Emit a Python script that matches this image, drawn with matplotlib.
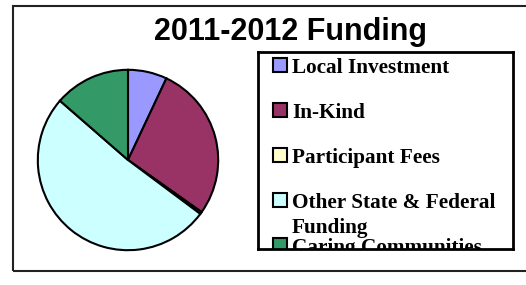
import matplotlib
matplotlib.use('Agg')
import matplotlib.pyplot as plt
from matplotlib.patches import Rectangle

# data (percent of total)
categories = ['Local Investment', 'In-Kind', 'Participant Fees',
              'Other State & Federal\nFunding', 'Caring Communities']
shares = [7.0, 27.8, 0.4, 51.2, 13.6]
colors = ['#9999FF', '#993366', '#FFFFCC', '#CCFFFF', '#339966']
title = '2011-2012 Funding'

W, H = 526, 285
fig = plt.figure(figsize=(W / 100, H / 100), dpi=100)

# outer chart-area border (open on the right, like the original crop)
fig.add_artist(Rectangle((13 / W, 1 - 271 / H), 2.0, 265 / H,
                         transform=fig.transFigure, fill=False,
                         edgecolor='#222222', linewidth=1.5))

fig.text(291 / W, 1 - 40 / H, title, ha='center', va='baseline',
         fontsize=22, fontweight='bold', family='Liberation Sans')

# pie
cx, cy, r = 128, 160, 92
ax = fig.add_axes([(cx - r) / W, 1 - (cy + r) / H, 2 * r / W, 2 * r / H])
ax.pie(shares, colors=colors, startangle=90, counterclock=False,
       wedgeprops=dict(edgecolor='black', linewidth=1.5))
ax.set_xlim(-1.02, 1.02)
ax.set_ylim(-1.02, 1.02)

# legend box (clipped like the original)
lx0, ly0, lx1, ly1 = 258, 52, 513, 249
lw, lh = lx1 - lx0, ly1 - ly0
lax = fig.add_axes([lx0 / W, 1 - ly1 / H, lw / W, lh / H])
lax.set_xlim(0, lw)
lax.set_ylim(lh, 0)
lax.set_xticks([])
lax.set_yticks([])
for s in lax.spines.values():
    s.set_linewidth(2)
    s.set_color('black')

step = 45
for i, (lab, col) in enumerate(zip(categories, colors)):
    base = 73 - ly0 + step * i
    lax.add_patch(Rectangle((273 - lx0, base - 15), 14, 14, facecolor=col,
                            edgecolor='black', linewidth=1.5, clip_on=True))
    for k, part in enumerate(lab.split('\n')):
        lax.text(292 - lx0, base + 25 * k, part, ha='left', va='baseline',
                 fontsize=15.3, fontweight='bold', family='Liberation Serif',
                 clip_on=True)

fig.savefig('out.png', dpi=100)
